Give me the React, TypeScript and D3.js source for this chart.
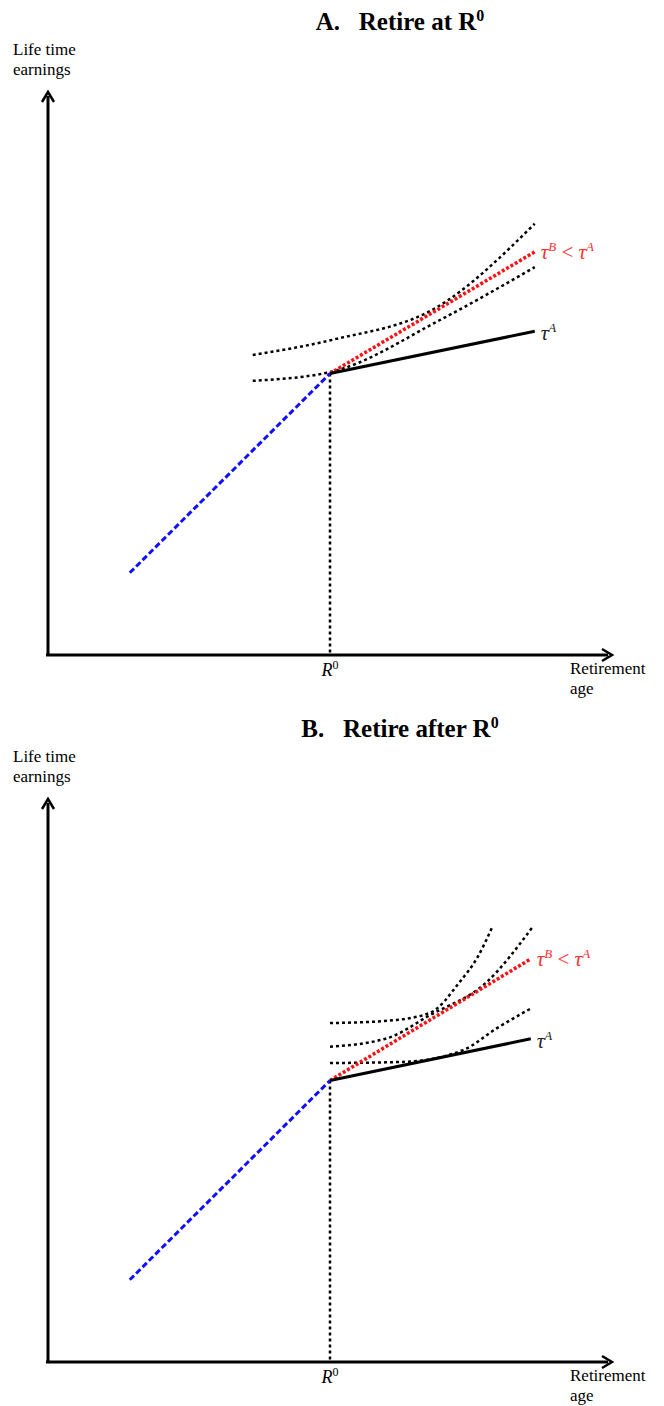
import * as d3 from "d3";

// data units: retirement age (x) and lifetime earnings (y), both 0..10
const R0 = [5, 5];
const blueStart = [1.45, 1.46];
const solidEnd = { A: [8.63, 5.75], B: [8.56, 5.74] };
const redEnd = { A: [8.63, 7.16], B: [8.56, 7.16] };

const curvesA: number[][][] = [
  [[3.63, 5.33], [5.05, 5.6], [6.9, 6.18], [8.63, 7.66]],
  [[3.63, 4.87], [5.02, 5.03], [6.95, 5.95], [8.63, 6.89]],
];
const curvesB: number[][][] = [
  [[5.0, 6.02], [6.01, 6.06], [6.77, 6.2], [7.3, 6.75], [7.61, 7.18], [7.87, 7.71]],
  [[5.0, 5.6], [6.01, 5.75], [6.77, 6.16], [7.78, 6.75], [8.58, 7.71]],
  [[5.0, 5.31], [6.29, 5.33], [7.36, 5.54], [7.96, 5.93], [8.58, 6.29]],
];

const serif = "'Liberation Serif', 'DejaVu Serif', serif";

const Panel = ({ top, title, curves, sEnd, rEnd }: any) => {
  const x = d3.scaleLinear().domain([0, 10]).range([48, 612]);
  const y = d3.scaleLinear().domain([0, 10]).range([top + 655, top + 92]);
  const line = d3.line<number[]>().x((d) => x(d[0])).y((d) => y(d[1])).curve(d3.curveMonotoneX);
  const ax = x(0), ay = y(0);
  return (
    <g>
      <text x={400} y={top + 30} textAnchor="middle" fontFamily={serif} fontWeight="bold" fontSize={25} style={{ whiteSpace: "pre" }}>
        {title}<tspan dy={-9} fontSize={16}>0</tspan>
      </text>
      <text x={13} y={top + 55} fontFamily={serif} fontSize={17}>Life time</text>
      <text x={13} y={top + 75} fontFamily={serif} fontSize={17}>earnings</text>
      <text x={570} y={top + 674} fontFamily={serif} fontSize={17}>Retirement</text>
      <text x={570} y={top + 694} fontFamily={serif} fontSize={17}>age</text>
      <text x={x(R0[0])} y={top + 676} textAnchor="middle" fontFamily={serif} fontStyle="italic" fontSize={18}>
        R<tspan dy={-7} fontSize={12} fontStyle="normal">0</tspan>
      </text>
      {/* axes */}
      <line x1={ax} y1={ay} x2={ax} y2={y(10) + 4} stroke="#000" strokeWidth={3} />
      <line x1={ax - 2} y1={ay} x2={x(10) - 4} y2={ay} stroke="#000" strokeWidth={3} />
      <path d={`M${ax - 6},${y(10) + 10} L${ax},${y(10)} L${ax + 6},${y(10) + 10}`} fill="none" stroke="#000" strokeWidth={2.5} />
      <path d={`M${x(10) - 10},${ay - 6} L${x(10)},${ay} L${x(10) - 10},${ay + 6}`} fill="none" stroke="#000" strokeWidth={2.5} />
      {/* vertical at R0 */}
      <line x1={x(R0[0])} y1={y(R0[1])} x2={x(R0[0])} y2={ay} stroke="#000" strokeWidth={2.5} strokeDasharray="3,3" />
      {curves.map((c: number[][], i: number) => (
        <path key={i} d={line(c)!} fill="none" stroke="#000" strokeWidth={2.5} strokeDasharray="3,3" />
      ))}
      <line x1={x(blueStart[0])} y1={y(blueStart[1])} x2={x(R0[0])} y2={y(R0[1])} stroke="#1010ff" strokeWidth={3} strokeDasharray="6,3" />
      <line x1={x(R0[0])} y1={y(R0[1])} x2={x(rEnd[0])} y2={y(rEnd[1])} stroke="#ff1010" strokeWidth={3.5} strokeDasharray="3,2" />
      <line x1={x(R0[0])} y1={y(R0[1])} x2={x(sEnd[0])} y2={y(sEnd[1])} stroke="#000" strokeWidth={3} />
      <text x={x(rEnd[0]) + 6} y={y(rEnd[1]) + 7} fill="#ff3030" fontFamily={serif} fontSize={21}>
        <tspan fontStyle="italic">τ</tspan><tspan dy={-8} fontSize={13} fontStyle="italic">B</tspan>
        <tspan dy={8}> &lt; </tspan><tspan fontStyle="italic">τ</tspan><tspan dy={-8} fontSize={13} fontStyle="italic">A</tspan>
      </text>
      <text x={x(sEnd[0]) + 6} y={y(sEnd[1]) + 9} fill="#222" fontFamily={serif} fontSize={21}>
        <tspan fontStyle="italic">τ</tspan><tspan dy={-8} fontSize={13} fontStyle="italic">A</tspan>
      </text>
    </g>
  );
};

export default function App() {
  return (
    <svg width={664} height={1406} style={{ position: "absolute", left: 0, top: 0, background: "#fff" }}>
      <Panel top={0} title={"A.\u00a0\u00a0\u00a0Retire at R"} curves={curvesA} sEnd={solidEnd.A} rEnd={redEnd.A} />
      <Panel top={707} title={"B.\u00a0\u00a0\u00a0Retire after R"} curves={curvesB} sEnd={solidEnd.B} rEnd={redEnd.B} />
    </svg>
  );
}
